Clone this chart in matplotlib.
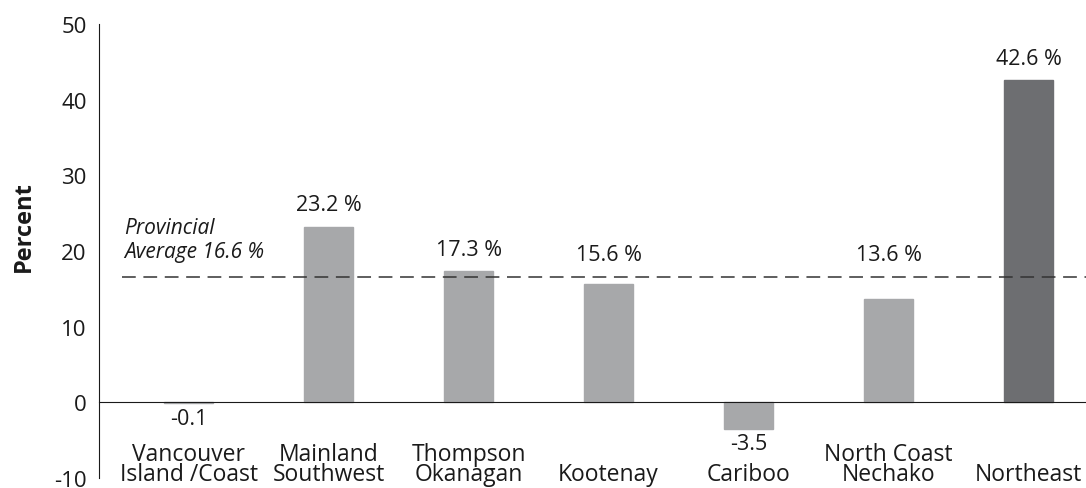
import numpy as np
import matplotlib
matplotlib.use('Agg')
import matplotlib.pyplot as plt

plt.rcParams['font.family'] = ['Open Sans', 'DejaVu Sans']
plt.rcParams['axes.unicode_minus'] = False

# Percent change by development region
regions = ['Vancouver\nIsland /Coast', 'Mainland\nSouthwest', 'Thompson\nOkanagan',
           'Kootenay', 'Cariboo', 'North Coast\nNechako', 'Northeast']
change = [-0.1, 23.2, 17.3, 15.6, -3.5, 13.6, 42.6]
value_labels = ['-0.1', '23.2 %', '17.3 %', '15.6 %', '-3.5', '13.6 %', '42.6 %']
provincial_avg = 16.6
yticks = [-10, 0, 10, 20, 30, 40, 50]

light = '#a7a8aa'
dark = '#6d6e71'
colors = [light] * 6 + [dark]
ink = '#1a1a1a'

fig = plt.figure(figsize=(10.86, 4.89), dpi=100)
ax = fig.add_axes([0.0912, 0.0204, 0.9088, 0.9284])

x = np.arange(len(regions))
ax.bar(x, change, width=0.355, color=colors, edgecolor=colors, linewidth=1.0, zorder=2)

# provincial average reference line
ax.axhline(provincial_avg, xmin=0.023, xmax=1.0, color='#333333', lw=1.1,
           dashes=(9, 5), zorder=3)
ax.text(-0.46, provincial_avg + 2.0, 'Provincial\nAverage 16.6 %', style='italic',
        fontsize=15, ha='left', va='bottom', color=ink, linespacing=1.15)

# value labels sit above the bar or the average line, whichever is higher
for xi, v, lab in zip(x, change, value_labels):
    if v >= 0:
        ax.text(xi, max(v, provincial_avg) + 1.5, lab, ha='center', va='bottom',
                fontsize=15.5, color=ink)
    else:
        ax.text(xi, v - 0.6, lab, ha='center', va='top', fontsize=15.5, color=ink)

# region names along the bottom
for xi, name in zip(x, regions):
    ax.text(xi, -11.1, name, ha='center', va='bottom', fontsize=16.5,
            color=ink, linespacing=0.82, clip_on=False)

ax.set_xlim(-0.64, 6.41)
ax.set_ylim(-10, 50)
ax.set_yticks(yticks)
ax.set_xticks([])
ax.tick_params(axis='y', length=0, pad=9, labelsize=16, labelcolor=ink)

ax.spines['top'].set_visible(False)
ax.spines['right'].set_visible(False)
ax.spines['bottom'].set_position(('data', 0))
ax.spines['bottom'].set_color(ink)
ax.spines['left'].set_color(ink)

ax.set_ylabel('Percent', fontsize=17, fontweight='bold', color=ink)
ax.yaxis.set_label_coords(-0.064, 0.555)

fig.savefig('out.png', dpi=100)
plt.close(fig)
